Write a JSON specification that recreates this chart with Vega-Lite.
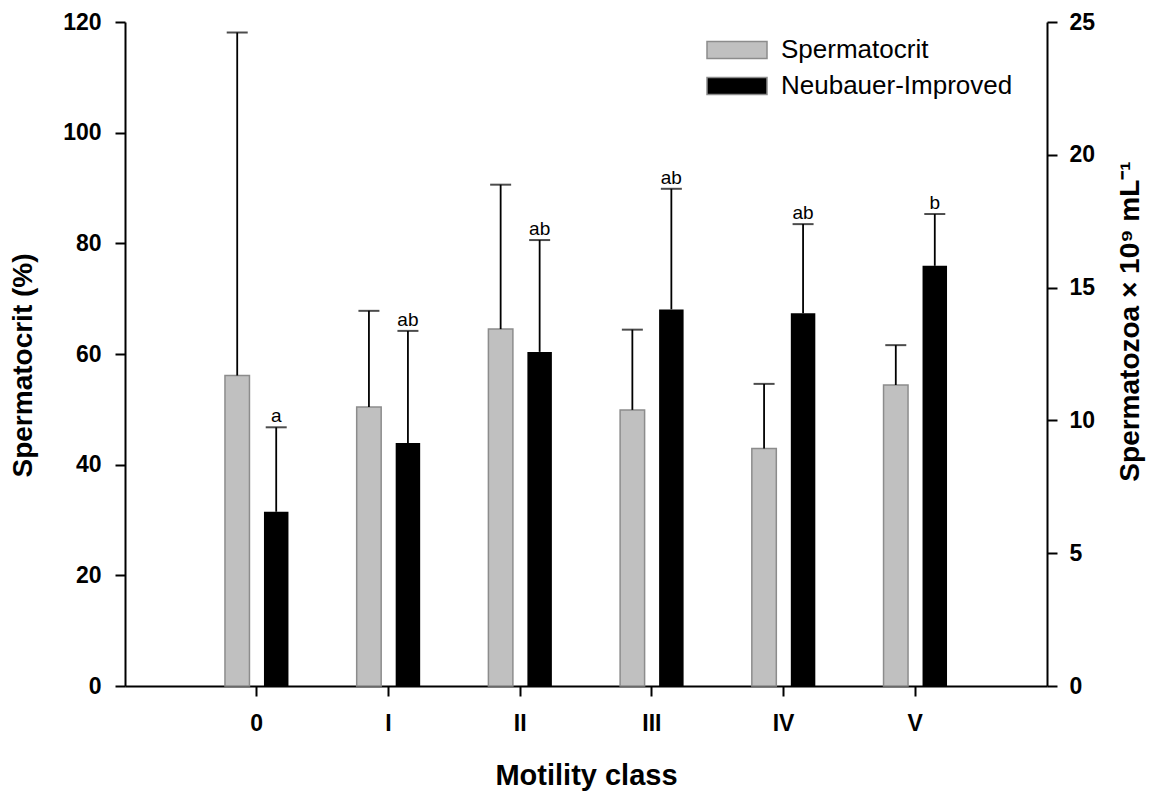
{
  "$schema": "https://vega.github.io/schema/vega-lite/v6.json",
  "width": 922,
  "height": 664,
  "autosize": {"type": "none"},
  "padding": {"left": 125, "top": 22, "right": 118, "bottom": 107},
  "config": {
    "view": {"stroke": null},
    "font": "Liberation Sans",
    "axis": {
      "domainColor": "#000000",
      "domainWidth": 2,
      "tickColor": "#000000",
      "tickWidth": 2,
      "tickSize": 10,
      "labelFont": "Liberation Sans",
      "labelFontWeight": "bold",
      "labelFontSize": 23,
      "labelColor": "#000000",
      "titleFont": "Liberation Sans",
      "titleFontWeight": "bold",
      "titleFontSize": 28,
      "titleColor": "#000000",
      "grid": false
    }
  },
  "data": {
    "values": [
      {"cls": "0", "series": "Spermatocrit", "value": 56.1, "err": 118.1, "letter": ""},
      {"cls": "I", "series": "Spermatocrit", "value": 50.4, "err": 67.8, "letter": ""},
      {"cls": "II", "series": "Spermatocrit", "value": 64.5, "err": 90.6, "letter": ""},
      {"cls": "III", "series": "Spermatocrit", "value": 49.9, "err": 64.4, "letter": ""},
      {"cls": "IV", "series": "Spermatocrit", "value": 42.9, "err": 54.6, "letter": ""},
      {"cls": "V", "series": "Spermatocrit", "value": 54.4, "err": 61.6, "letter": ""},
      {"cls": "0", "series": "Neubauer-Improved", "value": 6.56, "err": 9.74, "letter": "a"},
      {"cls": "I", "series": "Neubauer-Improved", "value": 9.15, "err": 13.37, "letter": "ab"},
      {"cls": "II", "series": "Neubauer-Improved", "value": 12.58, "err": 16.79, "letter": "ab"},
      {"cls": "III", "series": "Neubauer-Improved", "value": 14.18, "err": 18.72, "letter": "ab"},
      {"cls": "IV", "series": "Neubauer-Improved", "value": 14.03, "err": 17.39, "letter": "ab"},
      {"cls": "V", "series": "Neubauer-Improved", "value": 15.82, "err": 17.77, "letter": "b"}
    ]
  },
  "encoding": {
    "x": {
      "field": "cls",
      "type": "nominal",
      "sort": ["0", "I", "II", "III", "IV", "V"],
      "scale": {"paddingInner": 0.518, "paddingOuter": 0.759},
      "axis": {"labelAngle": 0, "labelPadding": 16, "title": "Motility class", "titlePadding": 26, "titleFontSize": 29}
    },
    "xOffset": {
      "field": "series",
      "type": "nominal",
      "sort": ["Spermatocrit", "Neubauer-Improved"],
      "scale": {"domain": ["Spermatocrit", "Neubauer-Improved"], "paddingInner": 0.372, "paddingOuter": 0}
    }
  },
  "layer": [
    {
      "transform": [{"filter": "datum.series === 'Spermatocrit'"}],
      "encoding": {
        "y": {
          "field": "value",
          "type": "quantitative",
          "scale": {"domain": [0, 120], "nice": false},
          "axis": {"orient": "left", "values": [0, 20, 40, 60, 80, 100, 120], "title": "Spermatocrit (%)", "titlePadding": 25, "titleY": 343, "labelPadding": 14}
        }
      },
      "layer": [
        {
          "mark": {"type": "bar", "stroke": "#8c8c8c", "strokeWidth": 1.5},
          "encoding": {
            "color": {
              "field": "series",
              "type": "nominal",
              "sort": ["Spermatocrit", "Neubauer-Improved"],
              "scale": {"domain": ["Spermatocrit", "Neubauer-Improved"], "range": ["#c0c0c0", "#000000"]},
              "legend": {
                "orient": "none",
                "legendX": 596,
                "legendY": 12,
                "title": null,
                "symbolType": "M-2,-0.56H2V0.56H-2Z",
                "symbolSize": 900,
                "symbolStrokeColor": "#8c8c8c",
                "symbolStrokeWidth": 1.5,
                "symbolOpacity": 1,
                "labelFontSize": 26,
                "labelFont": "Liberation Sans",
                "labelColor": "#000000",
                "labelOffset": 28,
                "labelLimit": 0,
                "rowPadding": 7
              }
            }
          }
        },
        {
          "mark": {"type": "rule", "color": "#000000", "strokeWidth": 1.8},
          "encoding": {"y2": {"field": "err"}}
        },
        {
          "mark": {"type": "tick", "color": "#000000", "thickness": 2, "size": 21, "orient": "horizontal"},
          "encoding": {"y": {"field": "err", "type": "quantitative"}}
        }
      ]
    },
    {
      "transform": [{"filter": "datum.series === 'Neubauer-Improved'"}],
      "encoding": {
        "y": {
          "field": "value",
          "type": "quantitative",
          "scale": {"domain": [0, 25], "nice": false},
          "axis": {"orient": "right", "values": [0, 5, 10, 15, 20, 25], "title": "Spermatozoa × 10⁹ mL⁻¹", "titleAngle": 270, "titlePadding": 50, "titleY": 299, "labelPadding": 12}
        }
      },
      "layer": [
        {
          "mark": {"type": "bar"},
          "encoding": {
            "color": {"field": "series", "type": "nominal", "sort": ["Spermatocrit", "Neubauer-Improved"]}
          }
        },
        {
          "mark": {"type": "rule", "color": "#000000", "strokeWidth": 1.8},
          "encoding": {"y2": {"field": "err"}}
        },
        {
          "mark": {"type": "tick", "color": "#000000", "thickness": 2, "size": 21, "orient": "horizontal"},
          "encoding": {"y": {"field": "err", "type": "quantitative"}}
        },
        {
          "mark": {"type": "text", "baseline": "alphabetic", "dy": -5, "fontSize": 19, "color": "#000000", "font": "Liberation Sans"},
          "encoding": {
            "y": {"field": "err", "type": "quantitative"},
            "text": {"field": "letter"}
          }
        }
      ]
    }
  ],
  "resolve": {"scale": {"y": "independent"}}
}
